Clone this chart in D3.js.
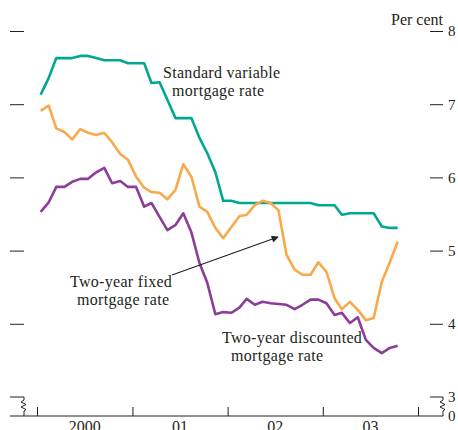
<!DOCTYPE html>
<html>
<head>
<meta charset="utf-8">
<script src="https://cdn.jsdelivr.net/npm/d3@7"></script>
<style>
  html, body { margin: 0; padding: 0; background: #fff; }
  svg { display: block; }
  text { font-family: "Liberation Serif", "Times New Roman", serif; fill: #231f20; }
</style>
</head>
<body>
<svg id="chart" width="458" height="430"></svg>
<script>
// monthly observations, Jan 2000 - Oct 2003
const months = [
  "2000-01","2000-02","2000-03","2000-04","2000-05","2000-06","2000-07","2000-08","2000-09","2000-10","2000-11","2000-12",
  "2001-01","2001-02","2001-03","2001-04","2001-05","2001-06","2001-07","2001-08","2001-09","2001-10","2001-11","2001-12",
  "2002-01","2002-02","2002-03","2002-04","2002-05","2002-06","2002-07","2002-08","2002-09","2002-10","2002-11","2002-12",
  "2003-01","2003-02","2003-03","2003-04","2003-05","2003-06","2003-07","2003-08","2003-09","2003-10"
];

const standardVariable = [7.13, 7.36, 7.63, 7.63, 7.63, 7.66, 7.66, 7.63, 7.60, 7.60, 7.60, 7.56,
  7.56, 7.56, 7.29, 7.30, 7.06, 6.81, 6.81, 6.81, 6.54, 6.33, 6.07, 5.68,
  5.68, 5.65, 5.65, 5.65, 5.65, 5.65, 5.65, 5.65, 5.65, 5.65, 5.65, 5.62,
  5.62, 5.62, 5.49, 5.51, 5.51, 5.51, 5.51, 5.33, 5.31, 5.31];

const twoYearFixed = [6.91, 6.98, 6.67, 6.62, 6.52, 6.66, 6.61, 6.58, 6.61, 6.48, 6.32, 6.24,
  6.01, 5.86, 5.80, 5.79, 5.70, 5.83, 6.18, 6.01, 5.60, 5.53, 5.31, 5.17,
  5.32, 5.47, 5.49, 5.62, 5.68, 5.65, 5.55, 4.94, 4.74, 4.67, 4.67, 4.84,
  4.71, 4.35, 4.20, 4.30, 4.19, 4.05, 4.08, 4.57, 4.84, 5.12];

const twoYearDiscounted = [5.53, 5.66, 5.87, 5.87, 5.94, 5.98, 5.98, 6.07, 6.13, 5.92, 5.95, 5.87,
  5.87, 5.60, 5.65, 5.46, 5.28, 5.35, 5.51, 5.25, 4.83, 4.56, 4.13, 4.16,
  4.15, 4.22, 4.34, 4.26, 4.30, 4.28, 4.27, 4.26, 4.20, 4.26, 4.33, 4.33,
  4.28, 4.12, 4.15, 4.01, 4.09, 3.78, 3.67, 3.60, 3.67, 3.70];

const yTicks = [3, 4, 5, 6, 7, 8];
const yearTicks = [2000, 2001, 2002, 2003, 2004];
const yearLabels = ["2000", "01", "02", "03"];

const svg = d3.select("#chart");

// monthly points sit mid-month
const parseMonth = d3.timeParse("%Y-%m");
const dates = months.map(m => d3.timeDay.offset(parseMonth(m), 14));

const x = d3.scaleTime()
  .domain([new Date(2000, 0, 1), new Date(2004, 0, 1)])
  .range([37, 418]);
const y = d3.scaleLinear().domain([3, 8]).range([397, 31]);

const ink = "#231f20";

// left ticks (no labels)
svg.append("g")
  .attr("transform", "translate(24,0)")
  .call(d3.axisLeft(y).tickValues(yTicks.slice(1)).tickSize(14).tickFormat(""))
  .call(g => g.select(".domain").remove())
  .call(g => g.selectAll("line").attr("stroke", ink));

// right ticks with labels
const right = svg.append("g")
  .attr("transform", "translate(430,0)")
  .call(d3.axisRight(y).tickValues(yTicks.slice(1)).tickSize(13).tickPadding(5)
    .tickFormat(d3.format("d")))
  .call(g => g.select(".domain").remove());
right.selectAll("line").attr("stroke", ink);
right.selectAll("text")
  .attr("font-family", "Liberation Serif, serif")
  .attr("font-size", 15)
  .attr("fill", ink);

// broken-axis marks at 3 / 0
const y3 = y(3), base = 416;
function breakPath(x0, x1, xv) {
  return `M${x0},${y3}H${x1}M${xv},${y3}V${y3 + 3}l-3,2l5,2.5l-5,2.5l5,2.5l-2,1.5V${base}`;
}
svg.append("path").attr("d", breakPath(10, 24, 24))
  .attr("fill", "none").attr("stroke", ink).attr("stroke-width", 1);
svg.append("path").attr("d", breakPath(430, 443, 443))
  .attr("fill", "none").attr("stroke", ink).attr("stroke-width", 1);

svg.append("text").attr("x", 448).attr("y", y3).attr("dy", "0.32em")
  .attr("font-size", 15).text("3");
svg.append("text").attr("x", 448).attr("y", base).attr("dy", "0.32em")
  .attr("font-size", 15).text("0");

// x axis
svg.append("line")
  .attr("x1", 10).attr("x2", 443).attr("y1", base).attr("y2", base)
  .attr("stroke", ink).attr("stroke-width", 1.2);

svg.append("g")
  .attr("transform", `translate(0,${base})`)
  .call(d3.axisBottom(x)
    .tickValues(yearTicks.map(yr => new Date(yr, 0, 1)))
    .tickSizeInner(-9).tickSizeOuter(0).tickFormat(""))
  .call(g => g.select(".domain").remove())
  .call(g => g.selectAll("line").attr("stroke", ink));

svg.append("g").selectAll("text")
  .data(yearLabels)
  .join("text")
  .attr("x", (d, i) => (x(new Date(yearTicks[i], 0, 1)) + x(new Date(yearTicks[i + 1], 0, 1))) / 2)
  .attr("y", 432)
  .attr("text-anchor", "middle")
  .attr("font-size", 16)
  .text(d => d);

// "Per cent" unit label
svg.append("text")
  .attr("x", 443).attr("y", 25)
  .attr("text-anchor", "end")
  .attr("font-size", 16)
  .text("Per cent");

// series lines
const line = d3.line()
  .x((d, i) => x(dates[i]))
  .y(d => y(d));

const series = [
  { values: standardVariable, color: "#00a88f" },
  { values: twoYearFixed, color: "#f9a94b" },
  { values: twoYearDiscounted, color: "#8b3d98" }
];

series.forEach(s => {
  svg.append("path")
    .datum(s.values)
    .attr("d", line)
    .attr("fill", "none")
    .attr("stroke", s.color)
    .attr("stroke-width", 2.6)
    .attr("stroke-linejoin", "round");
});

// annotations
function label(lines) {
  lines.forEach(l => {
    svg.append("text")
      .attr("x", l[0]).attr("y", l[1])
      .attr("font-size", 16)
      .attr("letter-spacing", 0.3)
      .text(l[2]);
  });
}
label([[163, 78, "Standard variable"], [172, 96, "mortgage rate"]]);
label([[70, 287, "Two-year fixed"], [77, 305, "mortgage rate"]]);
label([[222, 343, "Two-year discounted"], [231, 361, "mortgage rate"]]);

// arrow to the fixed-rate line
svg.append("defs").append("marker")
  .attr("id", "arrowHead")
  .attr("viewBox", "0 0 10 10")
  .attr("refX", 9).attr("refY", 5)
  .attr("markerWidth", 9).attr("markerHeight", 7)
  .attr("markerUnits", "userSpaceOnUse")
  .attr("orient", "auto")
  .append("path")
  .attr("d", "M0,0L10,5L0,10Z")
  .attr("fill", ink);

svg.append("line")
  .attr("x1", 172).attr("y1", 275)
  .attr("x2", 278).attr("y2", 237)
  .attr("stroke", ink).attr("stroke-width", 1.2)
  .attr("marker-end", "url(#arrowHead)");
</script>
</body>
</html>
